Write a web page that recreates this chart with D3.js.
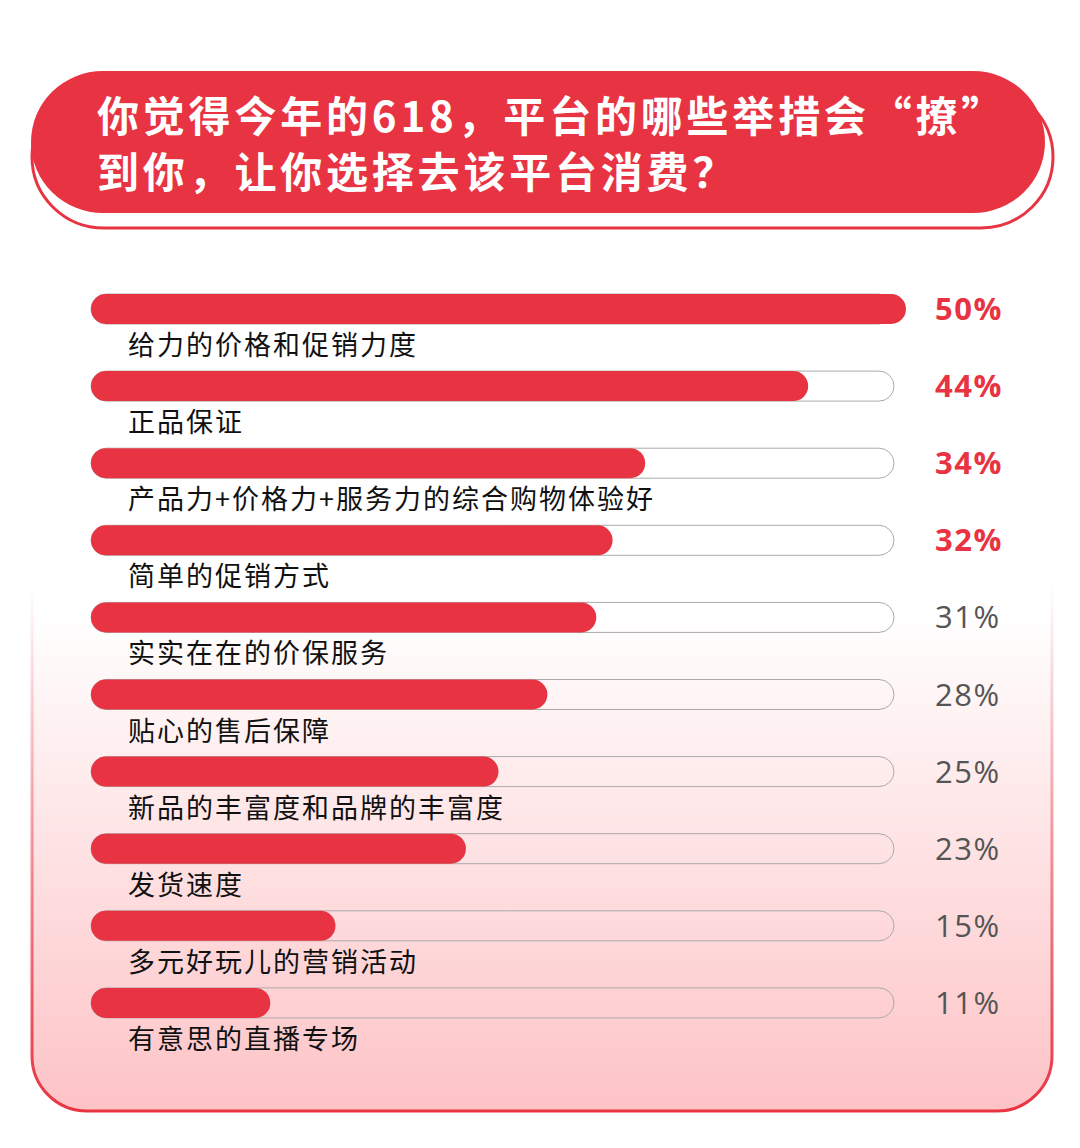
<!DOCTYPE html>
<html>
<head>
<meta charset="utf-8">
<script src="https://cdn.jsdelivr.net/npm/d3@7"></script>
<style>
  body { margin: 0; background: #fff; }
  svg { display: block; }
</style>
</head>
<body>
<svg id="chart" width="1080" height="1148"></svg>
<script>
// data
var titleLines = ["你觉得今年的618，平台的哪些举措会“撩”", "到你，让你选择去该平台消费？"];
var categories = ["给力的价格和促销力度", "正品保证", "产品力+价格力+服务力的综合购物体验好",
  "简单的促销方式", "实实在在的价保服务", "贴心的售后保障", "新品的丰富度和品牌的丰富度",
  "发货速度", "多元好玩儿的营销活动", "有意思的直播专场"];
var values = [50, 44, 34, 32, 31, 28, 25, 23, 15, 11];
var highlight = 4; // first n values in bold red

var red = "#e83442";
var svg = d3.select("#chart");
var defs = svg.append("defs");

var fillGrad = defs.append("linearGradient")
  .attr("id", "cardFill").attr("x1", 0).attr("y1", 0).attr("x2", 0).attr("y2", 1);
fillGrad.append("stop").attr("offset", "0%").attr("stop-color", "#ffffff");
fillGrad.append("stop").attr("offset", "48%").attr("stop-color", "#ffffff");
fillGrad.append("stop").attr("offset", "100%").attr("stop-color", "#fdc3c6");

var strokeGrad = defs.append("linearGradient")
  .attr("id", "cardStroke").attr("x1", 0).attr("y1", 0).attr("x2", 0).attr("y2", 1);
strokeGrad.append("stop").attr("offset", "0%").attr("stop-color", red).attr("stop-opacity", 0);
strokeGrad.append("stop").attr("offset", "45%").attr("stop-color", red).attr("stop-opacity", 0);
strokeGrad.append("stop").attr("offset", "100%").attr("stop-color", red).attr("stop-opacity", 1);

// card
svg.append("rect")
  .attr("x", 32).attr("y", 150).attr("width", 1020).attr("height", 961)
  .attr("rx", 55).attr("ry", 55)
  .attr("fill", "url(#cardFill)")
  .attr("stroke", "url(#cardStroke)").attr("stroke-width", 3);

// header: outline pill + filled pill
svg.append("rect")
  .attr("x", 32).attr("y", 86).attr("width", 1021).attr("height", 142)
  .attr("rx", 72).attr("ry", 72)
  .attr("fill", "#fff").attr("stroke", red).attr("stroke-width", 3);
svg.append("rect")
  .attr("x", 31).attr("y", 71).attr("width", 1014).attr("height", 142)
  .attr("rx", 72).attr("ry", 72)
  .attr("fill", red);

svg.append("g").selectAll("text")
  .data(titleLines)
  .join("text")
  .attr("x", 97)
  .attr("y", function(d, i) { return 132 + i * 56; })
  .attr("fill", "#fff")
  .style("font-family", "'Noto Sans CJK SC', sans-serif")
  .style("font-weight", 700)
  .style("font-size", "42px")
  .style("letter-spacing", "3.8px")
  .text(function(d) { return d; });

// scales
var x = d3.scaleLinear().domain([0, 50]).range([91, 906]);
var y = d3.scaleBand().domain(d3.range(categories.length)).range([294, 1065]).paddingInner(0);
var barH = 30;
var trackEnd = 894;

var rows = svg.append("g").selectAll("g")
  .data(values)
  .join("g")
  .attr("transform", function(d, i) { return "translate(0," + y(i) + ")"; });

rows.append("rect")
  .attr("class", "track")
  .attr("x", x(0)).attr("y", 0)
  .attr("width", trackEnd - x(0)).attr("height", barH)
  .attr("rx", barH / 2)
  .attr("fill", "none")
  .attr("stroke", "#aaaaaa").attr("stroke-width", 1);

rows.append("rect")
  .attr("class", "bar")
  .attr("x", x(0)).attr("y", 0)
  .attr("width", function(d) { return x(d) - x(0); })
  .attr("height", barH)
  .attr("rx", barH / 2)
  .attr("fill", red);

rows.append("text")
  .attr("x", 128).attr("y", barH / 2 + 46)
  .attr("fill", "#111")
  .style("font-family", "'Noto Sans CJK SC', sans-serif")
  .style("font-size", "27px")
  .style("letter-spacing", "2px")
  .text(function(d, i) { return categories[i]; });

rows.append("text")
  .attr("x", 935).attr("y", barH / 2 + 11)
  .attr("fill", function(d, i) { return i < highlight ? red : "#555"; })
  .style("font-family", "'Open Sans', sans-serif")
  .style("font-weight", function(d, i) { return i < highlight ? 700 : 400; })
  .style("font-size", "31px")
  .style("letter-spacing", "1.5px")
  .text(function(d) { return d + "%"; });
</script>
</body>
</html>
